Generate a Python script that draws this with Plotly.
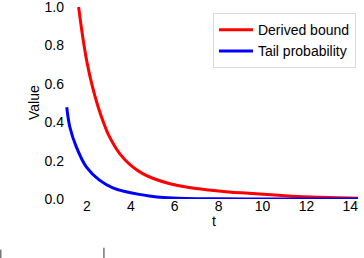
import plotly.graph_objects as go

# Data
t_bound = [1.62, 1.8, 2.0, 2.25, 2.5, 2.75, 3.0, 3.5, 4.0, 4.5, 5.0, 5.74, 6.65, 7.55, 8.46, 9.36, 10.72, 11.62, 12.5, 13.4, 14.35]
v_bound = [1.0, 0.85, 0.713, 0.585, 0.483, 0.40, 0.33, 0.235, 0.175, 0.135, 0.108, 0.081, 0.060, 0.047, 0.037, 0.030, 0.019, 0.013, 0.009, 0.006, 0.004]

t_tail = [1.08, 1.22, 1.52, 1.97, 2.57, 3.18, 3.78, 4.38, 4.84, 5.5, 6.5, 8.0, 10.0, 12.0, 14.35]
v_tail = [0.478, 0.375, 0.27, 0.167, 0.098, 0.058, 0.038, 0.024, 0.016, 0.008, 0.003, 0.0008, 0.0, 0.0, 0.0]

x_ticks = [2, 4, 6, 8, 10, 12, 14]
y_ticks = [0.0, 0.2, 0.4, 0.6, 0.8, 1.0]

FONT = "Liberation Sans, Arial, sans-serif"

fig = go.Figure()
fig.add_trace(go.Scatter(x=t_bound, y=v_bound, mode="lines", name="Derived bound",
                         line=dict(color="#ff0000", width=3, shape="spline", smoothing=1.0)))
fig.add_trace(go.Scatter(x=t_tail, y=v_tail, mode="lines", name="Tail probability",
                         line=dict(color="#0000ff", width=3, shape="spline", smoothing=1.0)))

fig.update_layout(
    width=364, height=258,
    margin=dict(l=65, r=6, t=7, b=59),
    paper_bgcolor="white", plot_bgcolor="white",
    font=dict(family=FONT, size=14, color="#000000"),
    showlegend=True,
    legend=dict(x=0.505, y=0.968, xanchor="left", yanchor="top",
                bgcolor="rgba(255,255,255,0.8)", bordercolor="#d9d9d9", borderwidth=1,
                font=dict(size=14), tracegroupgap=0, itemwidth=34),
    xaxis=dict(range=[1, 14.35], tickvals=x_ticks, showgrid=False, zeroline=False,
               showline=False, ticks="", tickfont=dict(size=14), ticklabeloverflow="allow",
               ticklabelstandoff=-3, automargin=False),
    yaxis=dict(range=[0, 1.0], tickvals=y_ticks, tickformat=".1f", showgrid=False,
               zeroline=False, showline=False, ticks="", tickfont=dict(size=14),
               ticklabeloverflow="allow", automargin=False),
    annotations=[
        dict(text="Value", xref="paper", yref="paper", x=-0.1058, y=0.5, textangle=-90,
             showarrow=False, xanchor="center", yanchor="middle", font=dict(size=14)),
        dict(text="t", xref="paper", yref="paper", x=0.508, y=-0.114,
             showarrow=False, xanchor="center", yanchor="middle", font=dict(size=14)),
    ],
    shapes=[
        dict(type="line", xref="paper", yref="paper", x0=-0.219, x1=-0.219, y0=-0.264, y1=-0.31,
             line=dict(color="#333", width=1)),
        dict(type="line", xref="paper", yref="paper", x0=0.1329, x1=0.1329, y0=-0.254, y1=-0.31,
             line=dict(color="#333", width=1)),
    ],
)

fig.write_html("out.html", config={"displayModeBar": False},
               post_script="document.body.style.margin='0';")
